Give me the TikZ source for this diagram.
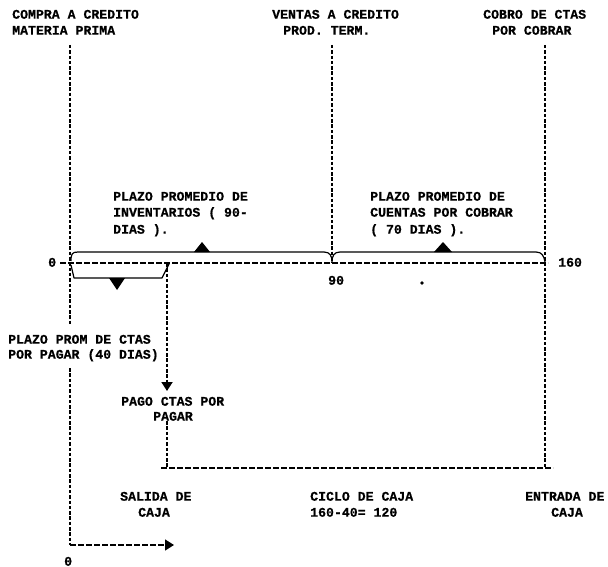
\documentclass[tikz,border=0pt]{standalone}
\usepackage{fontspec}
\newfontfamily\twfont{Liberation Mono}[BoldFeatures={FakeBold=0.6}]
\usetikzlibrary{arrows.meta}
\begin{document}
\begin{tikzpicture}[x=1pt,y=-1pt,
 lbl/.style={font=\twfont\bfseries\fontsize{13.2}{15}\selectfont, inner sep=0pt, text height=7.4pt, text depth=0pt, anchor=west},
 vline/.style={line width=1.8pt, dash pattern=on 3.5pt off 1.8pt},
 hline/.style={line width=1.3pt, dash pattern=on 5.5pt off 2.5pt},
 bracepath/.style={line width=1.2pt, line join=round},
 tip/.style={-{Triangle[width=11pt,length=9pt]}}]
\useasboundingbox (0,0) rectangle (608,567);
% top labels
\node[lbl] (compra1) at (12,15) {COMPRA A CREDITO};
\node[lbl] (compra2) at (12,31) {MATERIA PRIMA};
\node[lbl] (ventas1) at (272,15) {VENTAS A CREDITO};
\node[lbl] (ventas2) at (283,31) {PROD. TERM.};
\node[lbl] (cobro1) at (483,15) {COBRO DE CTAS};
\node[lbl] (cobro2) at (492,31) {POR COBRAR};
% period labels
\node[lbl] (inv1) at (113,197) {PLAZO PROMEDIO DE};
\node[lbl] (inv2) at (113,213) {INVENTARIOS ( 90-};
\node[lbl] (inv3) at (113,230) {DIAS ).};
\node[lbl] (cc1) at (370,197) {PLAZO PROMEDIO DE};
\node[lbl] (cc2) at (370,213) {CUENTAS POR COBRAR};
\node[lbl] (cc3) at (370,230) {( 70 DIAS ).};
% axis numbers
\node[lbl] (n0) at (48,263) {0};
\node[lbl] (n160) at (558,263) {160};
\node[lbl] (n90) at (328,281) {90};
\node[lbl] (nb0) at (64,562) {0};
% lower labels
\node[lbl] (ppp1) at (8,340) {PLAZO PROM DE CTAS};
\node[lbl] (ppp2) at (8,355) {POR PAGAR (40 DIAS)};
\node[lbl] (pago1) at (121,402) {PAGO CTAS POR};
\node[lbl] (pago2) at (153,417) {PAGAR};
\node[lbl] (sal1) at (120,497) {SALIDA DE};
\node[lbl] (sal2) at (138,513) {CAJA};
\node[lbl] (cic1) at (310,497) {CICLO DE CAJA};
\node[lbl] (cic2) at (310,513) {160-40= 120};
\node[lbl] (ent1) at (525,497) {ENTRADA DE};
\node[lbl] (ent2) at (551,513) {CAJA};
% coordinates
\coordinate (L0) at (70,45);
\coordinate (L1) at (70,325);
\coordinate (L2) at (70,368);
\coordinate (L3) at (70,545);
\coordinate (Lend) at (174,545);
\coordinate (M0) at (332,45);
\coordinate (M1) at (332,263);
\coordinate (R0) at (545,45);
\coordinate (R1) at (545,468);
\coordinate (H0) at (60,263);
\coordinate (H1) at (548,263);
\coordinate (P0) at (167,263);
\coordinate (P1) at (167,391);
\coordinate (P2) at (167,421);
\coordinate (P3) at (167,468);
\coordinate (C0) at (161,468);
\coordinate (C1) at (553,468);
% dashed lines
\draw[vline] (L0) -- (L1);
\draw[vline] (L2) -- (L3);
\draw[hline,tip] (L3) -- (Lend);
\draw[vline] (M0) -- (M1);
\draw[vline] (R0) -- (R1);
\draw[hline] (H0) -- (H1);
\draw[vline,tip] (P0) -- (P1);
\draw[vline] (P2) -- (P3);
\draw[hline] (C0) -- (C1);
% top brace
\draw[bracepath] (71,261) .. controls (71,254) and (72,252) .. (78,252) -- (324,252)
  .. controls (330,252) and (332,256) .. (332,262)
  .. controls (332,256) and (334,252) .. (340,252) -- (536,252)
  .. controls (542,252) and (544,256) .. (545,262);
\fill (194,252) -- (202,242) -- (210,252) -- cycle;
\fill (434,252) -- (443,242) -- (452,252) -- cycle;
% lower brace
\draw[bracepath] (71,265) -- (74,278) -- (162,278) -- (169,264);
\fill (109,278) -- (117,290) -- (125,278) -- cycle;
% dot
\fill (422,283) circle (1.8);
\end{tikzpicture}
\end{document}
